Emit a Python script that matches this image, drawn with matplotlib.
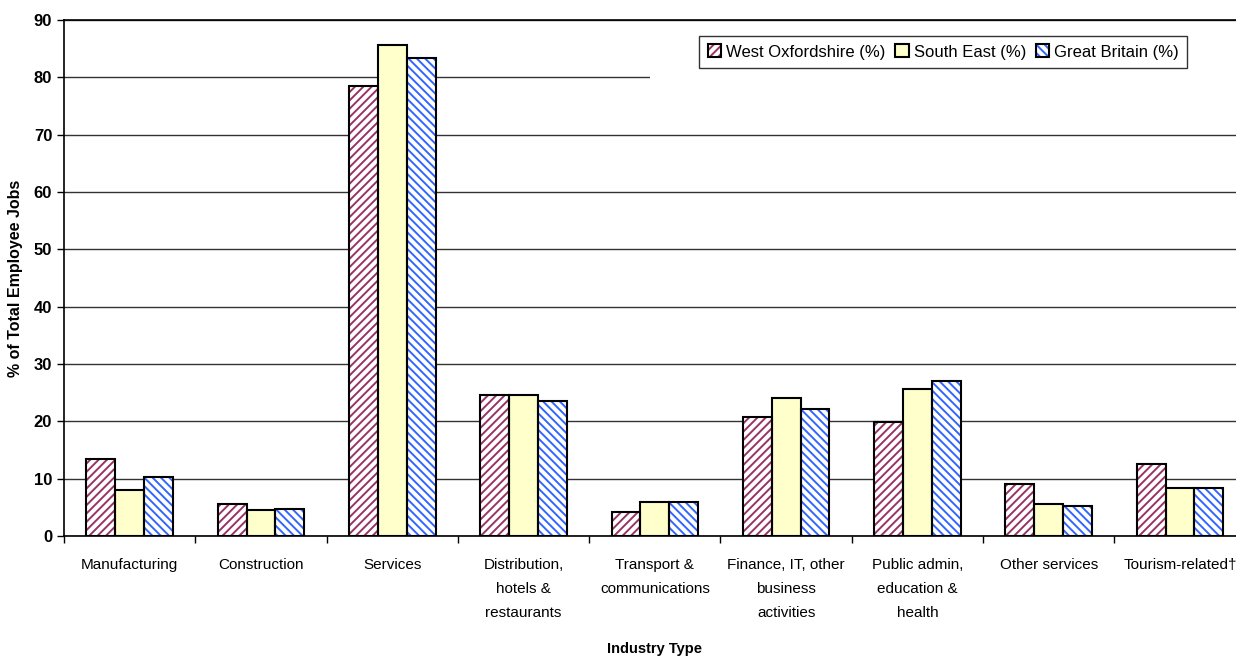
import numpy as np
import matplotlib
matplotlib.use('Agg')
import matplotlib.pyplot as plt
from matplotlib.patches import Rectangle

plt.rcParams['font.family'] = ['Liberation Sans', 'DejaVu Sans']
plt.rcParams['hatch.linewidth'] = 1.4

industries = ['Manufacturing', 'Construction', 'Services', 'Distribution,\nhotels &\nrestaurants',
              'Transport &\ncommunications', 'Finance, IT, other\nbusiness\nactivities',
              'Public admin,\neducation &\nhealth', 'Other services', 'Tourism-related\u2020']
west_oxon = [13.4, 5.6, 78.4, 24.6, 4.1, 20.7, 19.8, 9.0, 12.5]
south_east = [8.0, 4.5, 85.6, 24.6, 5.9, 24.0, 25.6, 5.5, 8.3]
great_britain = [10.3, 4.7, 83.3, 23.5, 5.9, 22.1, 27.0, 5.3, 8.3]
series_names = ['West Oxfordshire (%)', 'South East (%)', 'Great Britain (%)']

fig = plt.figure(figsize=(12.36, 6.57), dpi=100)
ax = fig.add_axes([0.0518, 0.1842, 0.956, 0.7854])

x = np.arange(len(industries)) + 0.5
w = 0.22

# hatched fills first, then black outlines on top
fills = []
fills.append(ax.bar(x - w, west_oxon, w, color='white', edgecolor='#993366', hatch='////', lw=0, zorder=2))
fills.append(ax.bar(x, south_east, w, color='#FFFFCC', lw=0, zorder=2))
fills.append(ax.bar(x + w, great_britain, w, color='white', edgecolor='#3366FF', hatch='\\\\\\\\', lw=0, zorder=2))
outlines = []
for off, vals in [(-w, west_oxon), (0, south_east), (w, great_britain)]:
    outlines.append(ax.bar(x + off, vals, w, fill=False, edgecolor='black', lw=1.5, zorder=3))

ax.set_xlim(0, 9)
ax.set_ylim(0, 90)
ax.set_yticks(range(0, 91, 10))
ax.yaxis.grid(True, color='#333333', lw=1)
ax.set_axisbelow(True)

# white area behind the legend hides part of the 80 gridline
ax.add_patch(Rectangle((4.46, 79.3), 4.6, 1.4, color='white', zorder=1.5, lw=0))

ax.set_xticks(range(0, 10))
ax.set_xticklabels([])
ax.set_xticks(x, minor=True)
ax.set_xticklabels(industries, minor=True, fontsize=11, linespacing=1.9)
ax.tick_params(axis='x', which='minor', length=0, pad=16)
ax.tick_params(axis='x', which='major', length=5, width=1, direction='out')
ax.tick_params(axis='y', length=5, width=1, labelsize=12)
for t in ax.get_yticklabels():
    t.set_fontweight('bold')

ax.spines['right'].set_visible(False)
ax.spines['top'].set_linewidth(1.2)
ax.spines['left'].set_linewidth(1.2)
ax.spines['bottom'].set_linewidth(1.2)

ax.set_ylabel('% of Total Employee Jobs', fontsize=11.5, fontweight='bold', labelpad=8)
ax.set_xlabel('Industry Type', fontsize=10.5, fontweight='bold', labelpad=16)

handles = [(fills[i][0], outlines[i][0]) for i in range(3)]
leg = ax.legend(handles, series_names, loc='upper left', bbox_to_anchor=(0.5305, 0.985), ncol=3,
                fontsize=12, frameon=True, fancybox=False, edgecolor='black',
                handlelength=0.8, handleheight=0.8, handletextpad=0.3, columnspacing=0.6,
                borderpad=0.5)
leg.get_frame().set_linewidth(1)

fig.savefig('out.png', dpi=100)
